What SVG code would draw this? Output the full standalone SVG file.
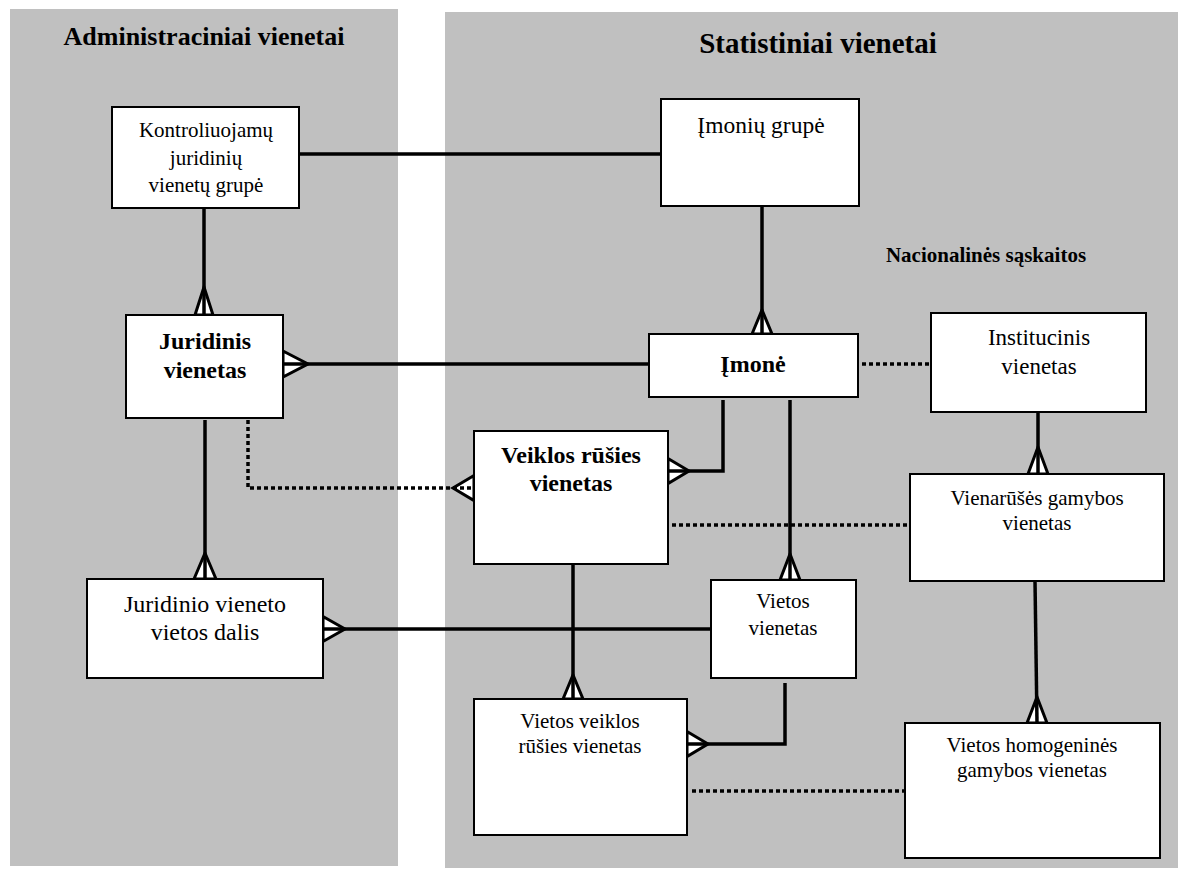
<svg xmlns="http://www.w3.org/2000/svg" width="1178" height="876" viewBox="0 0 1178 876">
<style>
.panel{fill:#c0c0c0;stroke:none}
.box{fill:#fff;stroke:#000;stroke-width:2}
.t{font-family:"Liberation Serif","Times New Roman",serif;fill:#000;text-anchor:middle}
.b{font-weight:bold}
.ln{fill:none;stroke:#000;stroke-width:3.5;stroke-linejoin:miter}
.dot{fill:none;stroke:#000;stroke-width:3.5;stroke-dasharray:4 3}
.foot{fill:#fff;stroke:#000;stroke-width:3;stroke-linejoin:miter}
</style>
<rect width="1178" height="876" fill="#fff"/>
<g id="panels">
<rect class="panel" x="10" y="9" width="388" height="857"/>
<rect class="panel" x="445" y="12" width="733" height="856"/>
<text class="t b" x="204" y="45" font-size="26">Administraciniai vienetai</text>
<text class="t b" x="818" y="53" font-size="29">Statistiniai vienetai</text>
<text class="t b" x="986" y="262" font-size="21">Nacionalinės sąskaitos</text>
</g>
<g id="connectors">
<polygon class="foot" points="195,315 204,287 213,315"/>
<polygon class="foot" points="752,334 762,310 772,334"/>
<polygon class="foot" points="283,351 308,364 283,377"/>
<polygon class="foot" points="194,579 205,553 216,579"/>
<polygon class="foot" points="474,475.5 453,488 474,500.5"/>
<polygon class="foot" points="668,458.5 689,471 668,483.5"/>
<polygon class="foot" points="780,580 790,554 800,580"/>
<polygon class="foot" points="1028,474 1038,447 1048,474"/>
<polygon class="foot" points="1027,723 1037,697 1047,723"/>
<polygon class="foot" points="323,616.5 345,629 323,641.5"/>
<polygon class="foot" points="563,699 573,675 583,699"/>
<polygon class="foot" points="687,731.5 708,744 687,756.5"/>
<path class="ln" d="M299 154H661"/>
<path class="ln" d="M204 208V315"/>
<path class="ln" d="M762 206V334"/>
<path class="ln" d="M283 364H649"/>
<path class="ln" d="M205 420V579"/>
<path class="ln" d="M723 400V471H668"/>
<path class="ln" d="M790 400V580"/>
<path class="ln" d="M1038 412V474"/>
<path class="ln" d="M1035 581L1037 723"/>
<path class="ln" d="M711 629H323"/>
<path class="ln" d="M573 564V699"/>
<path class="ln" d="M785 683V744H687"/>
<path class="dot" d="M248 420V488H474"/>
<path class="dot" d="M862 364H931"/>
<path class="dot" d="M672 525H910"/>
<path class="dot" d="M692 791H905"/>
</g>
<g id="kontroliuojamu">
<rect class="box" x="112" y="107" width="187" height="101"/>
<text class="t" x="206" y="137" font-size="21">Kontroliuojamų</text>
<text class="t" x="206" y="165" font-size="21">juridinių</text>
<text class="t" x="206" y="192" font-size="21">vienetų grupė</text>
</g>
<g id="imoniu-grupe">
<rect class="box" x="661" y="99" width="198" height="107"/>
<text class="t" x="761" y="133" font-size="23.5">Įmonių grupė</text>
</g>
<g id="juridinis">
<rect class="box" x="126" y="315" width="157" height="103"/>
<text class="t b" x="205" y="349" font-size="24">Juridinis</text>
<text class="t b" x="205" y="378" font-size="24">vienetas</text>
</g>
<g id="imone">
<rect class="box" x="649" y="334" width="209" height="63"/>
<text class="t b" x="753" y="372" font-size="24">Įmonė</text>
</g>
<g id="institucinis">
<rect class="box" x="931" y="313" width="215" height="99"/>
<text class="t" x="1039" y="345" font-size="23">Institucinis</text>
<text class="t" x="1039" y="374" font-size="23">vienetas</text>
</g>
<g id="veiklos">
<rect class="box" x="474" y="431" width="194" height="133"/>
<text class="t b" x="571" y="463" font-size="24">Veiklos rūšies</text>
<text class="t b" x="571" y="491" font-size="24">vienetas</text>
</g>
<g id="vienarusis">
<rect class="box" x="910" y="474" width="254" height="107"/>
<text class="t" x="1037" y="505" font-size="21">Vienarūšės gamybos</text>
<text class="t" x="1037" y="530" font-size="21">vienetas</text>
</g>
<g id="juridinio-vietos-dalis">
<rect class="box" x="87" y="579" width="236" height="99"/>
<text class="t" x="205" y="612" font-size="24">Juridinio vieneto</text>
<text class="t" x="205" y="640" font-size="24">vietos dalis</text>
</g>
<g id="vietos">
<rect class="box" x="711" y="580" width="145" height="98"/>
<text class="t" x="783" y="608" font-size="21">Vietos</text>
<text class="t" x="783" y="635" font-size="21">vienetas</text>
</g>
<g id="vietos-veiklos">
<rect class="box" x="474" y="699" width="213" height="136"/>
<text class="t" x="580" y="728" font-size="21">Vietos veiklos</text>
<text class="t" x="580" y="753" font-size="21">rūšies vienetas</text>
</g>
<g id="vietos-homogenines">
<rect class="box" x="905" y="723" width="255" height="135"/>
<text class="t" x="1032" y="752" font-size="21">Vietos homogeninės</text>
<text class="t" x="1032" y="777" font-size="21">gamybos vienetas</text>
</g>
</svg>
